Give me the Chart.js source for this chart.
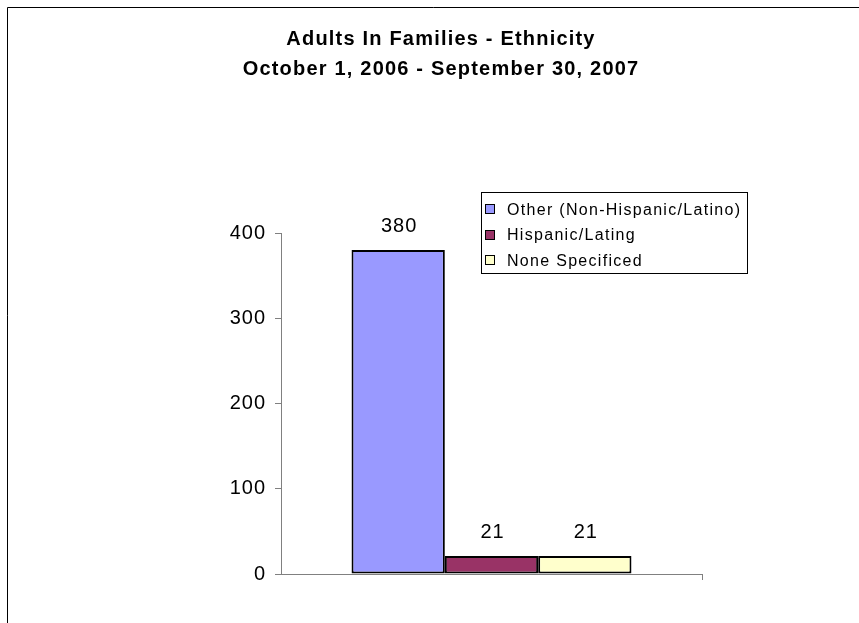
<!DOCTYPE html>
<html><head><meta charset="utf-8">
<script src="https://cdn.jsdelivr.net/npm/chart.js@4.4.1/dist/chart.umd.min.js"></script>
<style>html,body{margin:0;padding:0;background:#fff;} canvas{display:block;}</style>
</head><body>
<canvas id="c" width="859" height="623"></canvas>
<script>
const titleLines = ['Adults In Families - Ethnicity', 'October 1, 2006 - September 30, 2007'];
const categories = [''];
const seriesNames = ['Other (Non-Hispanic/Latino)', 'Hispanic/Lating', 'None Specificed'];
const otherValues = [380];
const hispanicValues = [21];
const noneValues = [21];
const seriesValues = [otherValues, hispanicValues, noneValues];
const seriesColors = ['#9999FF', '#993366', '#FFFFCC'];
const yMin = 0, yMax = 400, yStep = 100;

const FONT = "'Liberation Sans', Arial, sans-serif";

const spacingPlugin = {
  id: 'spacing',
  beforeUpdate(chart) { chart.ctx.letterSpacing = '1px'; },
  beforeLayout(chart) { chart.ctx.letterSpacing = '1px'; },
  beforeDraw(chart) {
    const ctx = chart.ctx;
    ctx.save();
    ctx.fillStyle = '#fff';
    ctx.fillRect(0, 0, chart.width, chart.height);
    ctx.strokeStyle = '#000';
    ctx.lineWidth = 1;
    ctx.beginPath();
    ctx.moveTo(7.5, chart.height);
    ctx.lineTo(7.5, 7.5);
    ctx.lineTo(chart.width, 7.5);
    ctx.stroke();
    ctx.restore();
    ctx.letterSpacing = '1px';
  }
};

const labelPlugin = {
  id: 'valueLabels',
  afterDatasetsDraw(chart) {
    const ctx = chart.ctx;
    ctx.save();
    ctx.letterSpacing = '1px';
    ctx.font = '20px ' + FONT;
    ctx.fillStyle = '#000';
    ctx.textAlign = 'center';
    ctx.textBaseline = 'alphabetic';
    chart.data.datasets.forEach((ds, i) => {
      chart.getDatasetMeta(i).data.forEach((bar, j) => {
        ctx.fillText(String(ds.data[j]), bar.x + 1, bar.y - 18);
      });
    });
    ctx.restore();
  }
};

const titleLegendPlugin = {
  id: 'titleLegend',
  afterDraw(chart) {
    const ctx = chart.ctx;
    ctx.save();
    // title
    ctx.letterSpacing = '1.2px';
    ctx.font = 'bold 20px ' + FONT;
    ctx.fillStyle = '#000';
    ctx.textAlign = 'center';
    ctx.textBaseline = 'alphabetic';
    ctx.fillText(titleLines[0], 441, 44.5);
    ctx.fillText(titleLines[1], 441, 75);
    // legend
    ctx.strokeStyle = '#000';
    ctx.lineWidth = 1;
    ctx.strokeRect(481.5, 192.5, 266, 81);
    ctx.letterSpacing = '1.3px';
    ctx.font = '16px ' + FONT;
    ctx.textAlign = 'left';
    chart.data.datasets.forEach((ds, i) => {
      const base = 214.5 + i * 25.7;
      const cy = Math.round(base - 5.5);
      ctx.fillStyle = ds.backgroundColor;
      ctx.fillRect(485.5, cy - 4.5, 9, 9);
      ctx.strokeRect(485.5, cy - 4.5, 9, 9);
      ctx.fillStyle = '#000';
      ctx.fillText(ds.label, 507, base);
    });
    ctx.restore();
  }
};

new Chart(document.getElementById('c'), {
  type: 'bar',
  data: {
    labels: categories,
    datasets: seriesNames.map((name, i) => ({
      label: name,
      data: seriesValues[i],
      backgroundColor: seriesColors[i],
      borderColor: '#000',
      borderWidth: 2,
      borderSkipped: false,
      categoryPercentage: 0.665,
      barPercentage: 1
    }))
  },
  options: {
    responsive: false,
    animation: false,
    devicePixelRatio: 1,
    layout: { padding: { left: 0, top: 233, right: 157, bottom: 0 } },
    plugins: { legend: { display: false }, title: { display: false }, tooltip: { enabled: false } },
    scales: {
      x: {
        ticks: { display: false },
        grid: {
          drawOnChartArea: false, drawTicks: true, tickLength: 6,
          color: c => (c.index === 0 ? 'rgba(0,0,0,0)' : '#808080')
        },
        border: { color: '#808080', width: 1 },
        afterFit(s) { s.height = 49; }
      },
      y: {
        min: yMin, max: yMax,
        ticks: { stepSize: yStep, color: '#000', font: { family: FONT, size: 20 }, padding: 9 },
        grid: { drawOnChartArea: false, drawTicks: true, tickLength: 6, color: '#808080' },
        border: { color: '#808080', width: 1 },
        afterFit(s) { s.width = 281; }
      }
    }
  },
  plugins: [spacingPlugin, labelPlugin, titleLegendPlugin]
});
</script>
</body></html>
